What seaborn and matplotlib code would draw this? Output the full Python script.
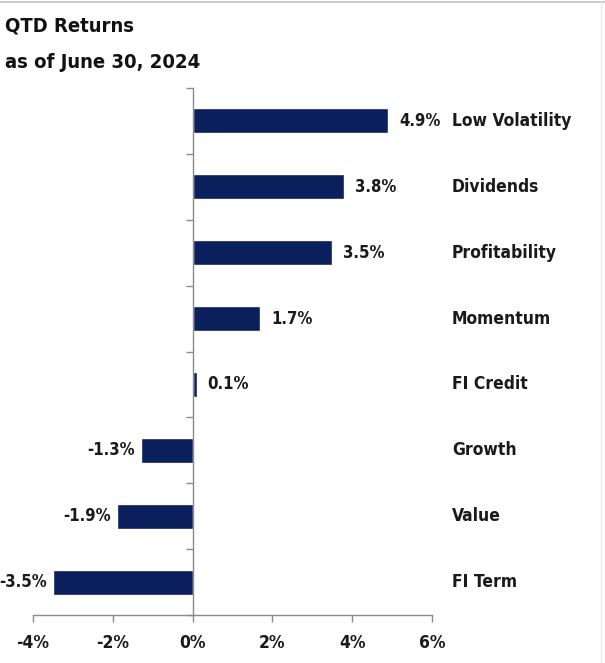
import matplotlib
matplotlib.use("Agg")
import matplotlib.pyplot as plt
from matplotlib.lines import Line2D
from matplotlib.ticker import FixedLocator, FuncFormatter
import seaborn as sns
import pandas as pd

categories = ["Low Volatility", "Dividends", "Profitability", "Momentum",
              "FI Credit", "Growth", "Value", "FI Term"]
returns = [4.9, 3.8, 3.5, 1.7, 0.1, -1.3, -1.9, -3.5]
x_ticks = [-4, -2, 0, 2, 4, 6]

title_lines = ["QTD Returns", "as of June 30, 2024"]

NAVY = "#0b1f5c"
AXIS_GRAY = "#8a8a8a"
TEXT = "#1a1a1a"

sns.set_theme(style="white")
FONT = ["DejaVu Sans"]
plt.rcParams["font.family"] = FONT
plt.rcParams["font.stretch"] = "condensed"
plt.rcParams["font.weight"] = "bold"

df = pd.DataFrame({"factor": categories, "ret": returns})

fig = plt.figure(figsize=(6.05, 6.63), dpi=100)
ax = fig.add_axes([33 / 605, 1 - 615 / 663, (432 - 33) / 605, (615 - 88) / 663])

sns.barplot(data=df, x="ret", y="factor", orient="h", color=NAVY,
            width=0.38, saturation=1, ax=ax)

ax.set_xlim(-4, 6)
ax.set_ylim(len(categories) - 0.5, -0.5)
ax.set_xlabel("")
ax.set_ylabel("")

# spines: vertical axis through zero, bottom axis with outward ticks
for side in ("top", "right"):
    ax.spines[side].set_visible(False)
ax.spines["left"].set_position(("data", 0))
for side in ("left", "bottom"):
    ax.spines[side].set_color(AXIS_GRAY)
    ax.spines[side].set_linewidth(1.0)

ax.set_xticks(x_ticks)
ax.xaxis.set_major_formatter(FuncFormatter(lambda v, _: f"{v:.0f}%"))
ax.tick_params(axis="x", direction="out", length=5, width=1, color=AXIS_GRAY,
               labelsize=12.5, labelcolor=TEXT, pad=9, bottom=True)
for lab in ax.get_xticklabels():
    lab.set_fontweight("bold")
    lab.set_fontstretch("condensed")

# y ticks between categories, no labels on the axis itself
ax.set_yticks([])
ax.yaxis.set_minor_locator(FixedLocator([i - 0.5 for i in range(len(categories) + 1)]))
ax.tick_params(axis="y", which="minor", direction="out", length=5, width=1,
               color=AXIS_GRAY, left=True)
ax.tick_params(axis="y", which="major", length=0)

value_kw = dict(fontsize=12, fontweight="bold", fontstretch="condensed", color=TEXT)
name_kw = dict(fontsize=12.5, fontweight="bold", fontstretch="condensed", color=TEXT)

# value labels and category names
for i, (name, val) in enumerate(zip(categories, returns)):
    if val >= 0:
        ax.annotate(f"{val:.1f}%", (val, i), xytext=(8, 0), textcoords="offset points",
                    ha="left", va="center", annotation_clip=False, **value_kw)
    else:
        ax.annotate(f"{val:.1f}%", (val, i), xytext=(-4.5, 0), textcoords="offset points",
                    ha="right", va="center", annotation_clip=False, **value_kw)
    ax.text(6.5, i, name, ha="left", va="center", clip_on=False, **name_kw)

title_kw = dict(fontsize=14.5, fontweight="bold", fontstretch="condensed", color="#111111",
                ha="left", va="center")
fig.text(5 / 605, 1 - 26 / 663, title_lines[0], **title_kw)
fig.text(5 / 605, 1 - 62 / 663, title_lines[1], **title_kw)

# frame line along the top edge
fig.add_artist(Line2D([0, 1], [1 - 2 / 663, 1 - 2 / 663], transform=fig.transFigure,
                      color="#c4c4c4", linewidth=1.2))
fig.add_artist(Line2D([601 / 605, 601 / 605], [0, 1 - 2 / 663], transform=fig.transFigure,
                      color="#ececec", linewidth=1.0))

fig.savefig("out.png", dpi=100, facecolor="white")
